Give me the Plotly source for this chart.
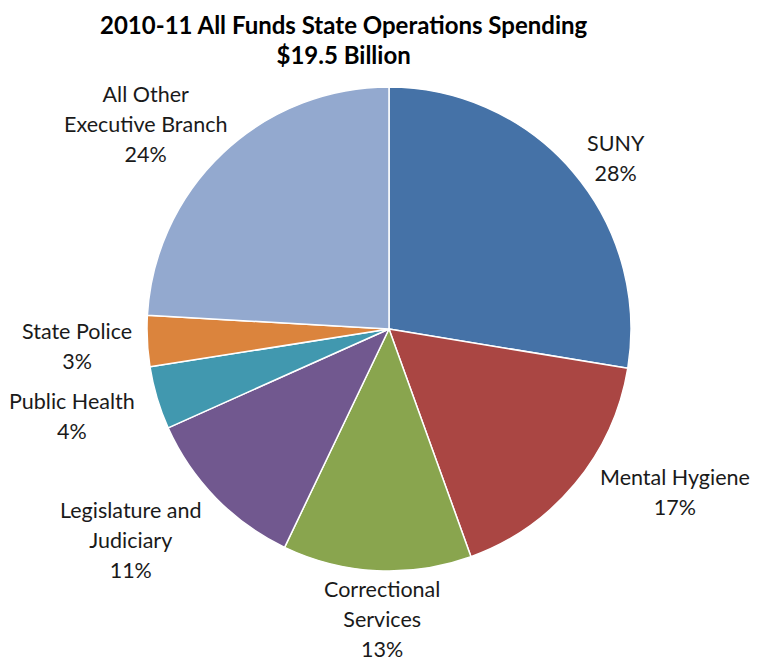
import plotly.graph_objects as go

categories = ["SUNY", "Mental Hygiene", "Correctional<br>Services", "Legislature and<br>Judiciary",
              "Public Health", "State Police", "All Other<br>Executive Branch"]
values = [27.6, 16.9, 12.6, 11.2, 4.2, 3.4, 24.1]
colors = ["#4572A7", "#AA4643", "#89A54E", "#71588F", "#4198AF", "#DB843D", "#93A9CF"]

# label centres (page pixels), layout only
label_pos = [(616, 158), (675, 492), (382, 619), (131, 540), (72, 416), (77, 346), (145, 124)]

W, H = 767, 661
off = 8  # page body margin
cx, cy, r = 389 - off, 329 - off, 242

fig = go.Figure(go.Pie(
    labels=categories, values=values, sort=False, direction="clockwise", rotation=0,
    marker=dict(colors=colors, line=dict(color="white", width=1.5)),
    textinfo="none",
    domain=dict(x=[(cx - r) / W, (cx + r) / W], y=[(H - cy - r) / H, (H - cy + r) / H]),
    showlegend=False, hoverinfo="label+percent",
))

total = sum(values)
annotations = [dict(text="<span style='font-size:24px'><b>2010-11 All Funds State Operations Spending<br>$19.5 Billion</b></span>",
                    x=(344 - off) / W, xref="paper", xanchor="center",
                    y=1, yref="paper", yanchor="top", showarrow=False,
                    font=dict(family="Lato", size=23, color="black"))]
for lab, v, (px, py) in zip(categories, values, label_pos):
    pct = f"{round(100 * v / total)}%"
    annotations.append(dict(
        text=f"<span style='font-size:21.5px'>{lab}<br>{pct}</span>",
        x=(px - off) / W, y=1 - (py - off) / H, xref="paper", yref="paper",
        xanchor="center", yanchor="middle", showarrow=False, align="center",
        font=dict(family="Lato", size=23, color="#1a1a1a")))

fig.update_layout(
    width=W, height=H, margin=dict(l=0, r=0, t=0, b=0),
    paper_bgcolor="white", plot_bgcolor="white",
    annotations=annotations,
)
fig.write_html("out.html")
